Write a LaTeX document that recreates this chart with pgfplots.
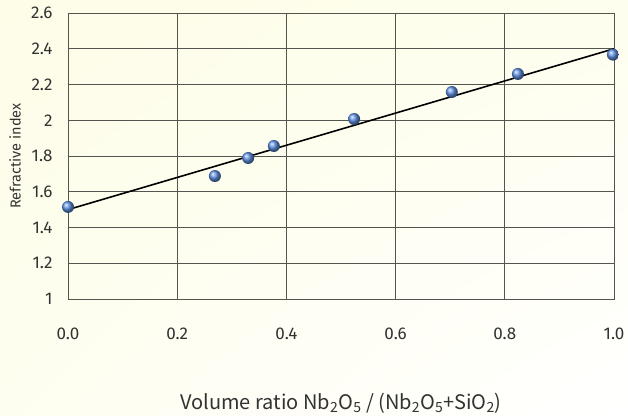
\documentclass[border=0pt]{standalone}
\usepackage{fontspec}
\setmainfont{Fira Sans}
\newfontfamily\jpfont{Noto Sans CJK JP}
\usepackage{pgfplots}
\pgfplotsset{compat=1.18}
\usetikzlibrary{shadings}
\definecolor{cream}{RGB}{254,253,232}
\definecolor{creamb}{RGB}{254,254,238}
\definecolor{creamc}{RGB}{254,254,240}
\definecolor{gridc}{RGB}{85,85,80}
\definecolor{txt}{RGB}{50,50,50}
\definecolor{dotc}{RGB}{95,145,228}
\begin{document}
\begin{tikzpicture}
\shade[upper left=cream, upper right=creamb, lower left=creamc, lower right=white] (-68bp,-117bp) rectangle (560bp,299bp);
\path[use as bounding box] (-68bp,-117bp) rectangle (560bp,299bp);
\begin{axis}[
  at={(0,0)}, anchor=south west,
  scale only axis, width=546bp, height=286bp,
  xmin=0, xmax=1, ymin=1, ymax=2.6,
  xtick={0,0.2,0.4,0.6,0.8,1.0},
  ytick={1,1.2,1.4,1.6,1.8,2,2.2,2.4,2.6},
  /pgf/number format/assume math mode=true,
  tick style={draw=none},
  grid=major,
  major grid style={draw=gridc, line width=0.8bp},
  axis line style={draw=gridc, line width=0.8bp},
  ticklabel style={font=\fontsize{17bp}{19bp}\selectfont, text=txt},
  xticklabel style={/pgf/number format/fixed, /pgf/number format/fixed zerofill, /pgf/number format/precision=1, yshift=-25bp},
  yticklabel style={xshift=-12bp},
  ylabel={Refractive index},
  ylabel style={at={(axis description cs:-0.097,0.5)}, anchor=center, font=\fontsize{14.5bp}{16bp}\selectfont, text=txt},
  xlabel={\jpfont Volume ratio Nb\textsubscript{2}O\textsubscript{5} / (Nb\textsubscript{2}O\textsubscript{5}+SiO\textsubscript{2})},
  xlabel style={at={(axis description cs:0.5,-0.365)}, anchor=center, font=\fontsize{20bp}{22bp}\selectfont, text=txt},
  clip=false,
]
\addplot[black, line width=1.6bp, no marks] coordinates {(0,1.50) (1,2.40)};
\addplot[only marks, mark=ball, ball color=dotc, mark size=6bp, draw=none] coordinates {
(0.0,1.515) (0.269,1.688) (0.33,1.789) (0.377,1.856) (0.524,2.007) (0.703,2.158) (0.824,2.259) (0.998,2.367)
};
\end{axis}
\end{tikzpicture}
\end{document}
